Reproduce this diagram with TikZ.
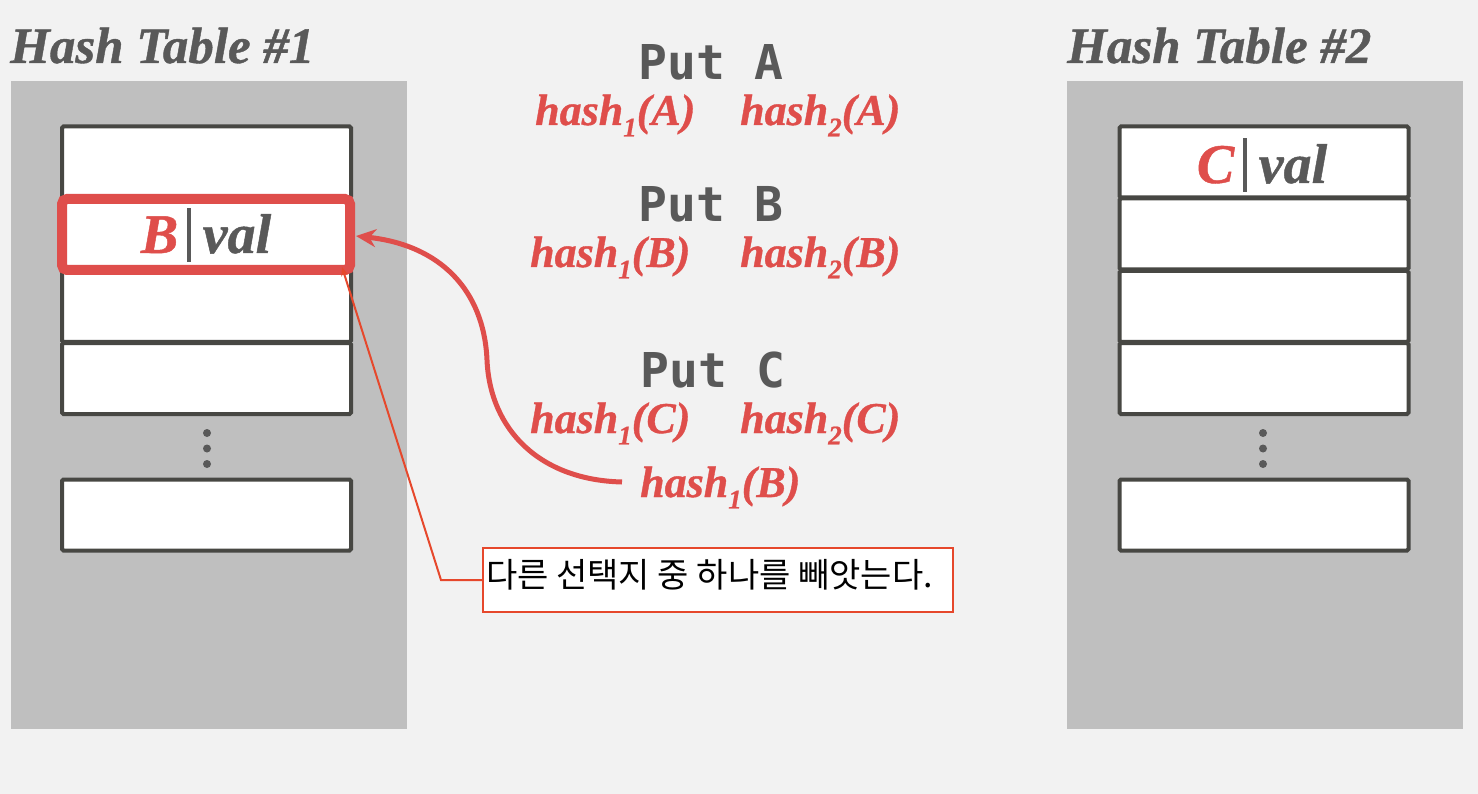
\documentclass[tikz,border=0pt]{standalone}
\usepackage{fontspec}
\setmainfont{Liberation Serif}[BoldItalicFeatures={FakeBold=0.8}]
\newfontfamily\putfont{DejaVu Sans Mono}
\newfontfamily\krfont{Noto Sans CJK KR}
\usetikzlibrary{arrows.meta}
\definecolor{bgc}{HTML}{F2F2F2}
\definecolor{panelc}{HTML}{BFBFBF}
\definecolor{cellc}{HTML}{474743}
\definecolor{txtc}{HTML}{595959}
\definecolor{redc}{HTML}{DF4E4B}
\definecolor{orc}{HTML}{E6482C}
\tikzset{
  panel/.style={fill=panelc, draw=none, minimum width=396pt, minimum height=648pt, inner sep=0pt},
  cell/.style={fill=white, draw=cellc, line width=4pt, rounded corners=1.5pt, minimum width=289pt, minimum height=71pt, inner sep=0pt},
  title/.style={text=txtc, font=\fontsize{51}{60}\selectfont\bfseries\itshape, inner sep=0pt, anchor=base west},
  puttxt/.style={text=txtc, font=\putfont\fontsize{48}{54}\selectfont\bfseries, inner sep=0pt, anchor=base},
  hashtxt/.style={text=redc, font=\fontsize{44}{50}\selectfont\bfseries\itshape, inner sep=0pt, anchor=base west},
  celltxt/.style={text=txtc, font=\fontsize{56}{60}\selectfont\bfseries\itshape, inner sep=0pt, anchor=base},
  vdot/.style={circle, fill=txtc, draw=none, minimum size=8pt, inner sep=0pt},
}
\newcommand{\hsub}[1]{hash\raisebox{-0.26em}{\fontsize{27}{30}\selectfont #1}}
\newcommand{\kbar}{\hspace{9pt}{\color{txtc}\rule[-9pt]{3.5pt}{54pt}}\hspace{12pt}}
\begin{document}
\begin{tikzpicture}[x=1pt,y=-1pt]
\useasboundingbox (0,0) rectangle (1478,794);
\fill[bgc] (0,0) rectangle (1478,794);
% panels
\node[panel, anchor=north west] (p1) at (11,81) {};
\node[panel, anchor=north west] (p2) at (1067,81) {};
% titles
\node[title] (t1) at (10,63) {Hash Table \#1};
\node[title] (t2) at (1067,63) {Hash Table \#2};
% left cells
\node[cell] (l1) at (206.5,162) {};
\node[cell] (l2) at (206.5,234) {};
\node[cell] (l3) at (206.5,306.5) {};
\node[cell] (l4) at (206.5,378.5) {};
\node[cell] (l5) at (206.5,515) {};
\node[vdot] (ld1) at (207,433) {};
\node[vdot] (ld2) at (207,448.5) {};
\node[vdot] (ld3) at (207,464) {};
% right cells
\node[cell] (r1) at (1264,162) {};
\node[cell] (r2) at (1264,234) {};
\node[cell] (r3) at (1264,306.5) {};
\node[cell] (r4) at (1264,378.5) {};
\node[cell] (r5) at (1264,515) {};
\node[vdot] (rd1) at (1263,433) {};
\node[vdot] (rd2) at (1263,448.5) {};
\node[vdot] (rd3) at (1263,464) {};
% highlighted cell
\node[draw=redc, line width=10pt, rounded corners=5pt, minimum width=288pt, minimum height=71pt, inner sep=0pt] (hl) at (206,234.5) {};
\node[celltxt] (bval) at (206,253) {{\color{redc}B}\kbar val};
\node[celltxt] (cval) at (1262,183) {{\color{redc}C}\kbar val};
% put labels
\node[puttxt] (pa) at (711,80) {Put A};
\node[puttxt] (pb) at (711,222) {Put B};
\node[puttxt] (pc) at (713,387) {Put C};
\node[hashtxt] (h1a) at (535,125) {\hsub{1}(A)};
\node[hashtxt] (h2a) at (740,125) {\hsub{2}(A)};
\node[hashtxt] (h1b) at (530,267) {\hsub{1}(B)};
\node[hashtxt] (h2b) at (740,267) {\hsub{2}(B)};
\node[hashtxt] (h1c) at (530,433) {\hsub{1}(C)};
\node[hashtxt] (h2c) at (740,433) {\hsub{2}(C)};
\node[hashtxt] (h1b2) at (640,497) {\hsub{1}(B)};
% curved arrow
\coordinate (cs) at ([xshift=-18pt,yshift=15pt]h1b2.base west);
\coordinate (ce) at (356,236);
\draw[redc, line width=5pt, -{Stealth[length=20pt,width=18pt]}]
  (cs) .. controls (540,480) and (490,430) .. (487,360)
       .. controls (484,290) and (440,245) .. (ce);
% callout
\node[draw=orc, line width=2pt, fill=white, minimum width=470pt, minimum height=64pt, inner sep=0pt] (co) at (718,580) {};
\node[anchor=west, inner sep=0pt, font=\krfont\fontsize{34}{38}\selectfont, text=black] (cot) at ([xshift=4pt,yshift=5pt]co.west) {다른 선택지 중 하나를 빼앗는다.};
\coordinate (ck) at (441,580);
\coordinate (ctip) at (342,267);
\draw[orc, line width=2pt, -{Stealth[length=9pt,width=7pt]}] (co.west) -- (ck) -- (ctip);
\end{tikzpicture}
\end{document}
